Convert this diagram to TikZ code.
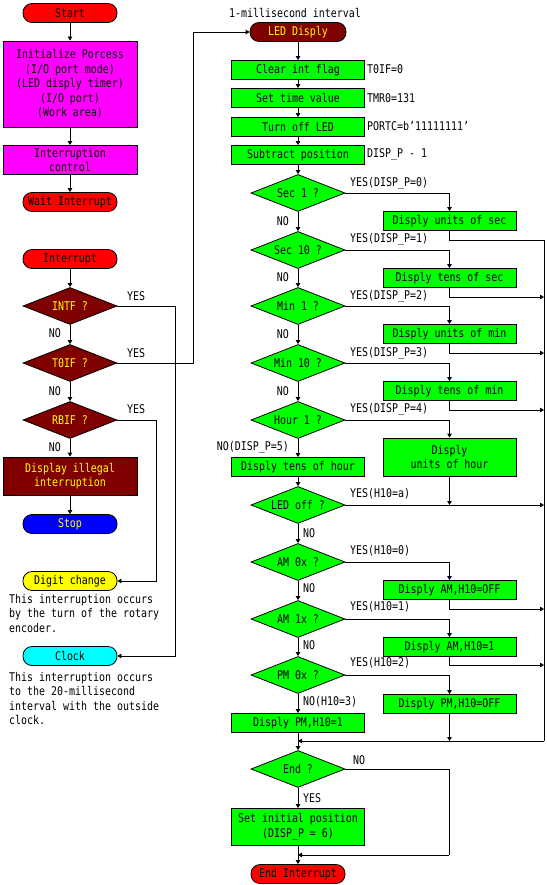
\documentclass[tikz,border=0pt]{standalone}
\usepackage{fontspec}
\setmainfont{DejaVu Sans Mono}[FakeStretch=0.83]
\usetikzlibrary{shapes.geometric,arrows.meta}
\definecolor{cred}{RGB}{255,0,0}
\definecolor{cmag}{RGB}{255,0,255}
\definecolor{cmar}{RGB}{128,0,0}
\definecolor{cblu}{RGB}{0,0,255}
\definecolor{cyel}{RGB}{255,255,0}
\definecolor{ccya}{RGB}{0,255,255}
\definecolor{cgrn}{RGB}{0,255,0}
\newcommand\dgfont{\fontsize{12}{14.5}\selectfont}
\tikzset{
  base/.style={draw, line width=0.8pt, inner sep=0pt, font=\dgfont, align=center},
  term/.style={base, rounded corners=9pt, minimum width=94pt, minimum height=19pt},
  pbox/.style={base, rectangle, minimum width=133pt, minimum height=19pt},
  dec/.style={base, diamond, aspect=2.5, minimum width=94pt, minimum height=37pt},
  lbl/.style={inner sep=0pt, font=\dgfont, align=left},
  ln/.style={line width=0.8pt},
  arr/.style={line width=0.8pt, -{Triangle[length=4pt,width=4.5pt]}},
  dark/.style={fill=cmar, text=cyel},
}
\begin{document}
\begin{tikzpicture}[x=1pt,y=-1pt]
\useasboundingbox (0,0) rectangle (546,885);
% ---------- left column ----------
\node[term, fill=cred] (start) at (70,13) {Start};
\node[pbox, fill=cmag, minimum width=134pt, minimum height=86pt] (init) at (70,84)
  {Initialize Porcess\\(I/O port mode)\\(LED disply timer)\\(I/O port)\\(Work area)};
\node[pbox, fill=cmag, minimum width=134pt, minimum height=29pt] (intc) at (70,160) {Interruption\\control};
\node[term, fill=cred] (wait) at (70,202) {Wait Interrupt};
\node[term, fill=cred] (intr) at (70,259) {Interrupt};
\node[dec, dark] (intf) at (70,306) {INTF ?};
\node[dec, dark] (toif) at (70,363) {T0IF ?};
\node[dec, dark] (rbif) at (70,420) {RBIF ?};
\node[pbox, dark, minimum width=134pt, minimum height=38pt] (illeg) at (70,476) {Display illegal\\interruption};
\node[term, fill=cblu, text=cyel] (stop) at (70,524) {Stop};
\node[term, fill=cyel] (digit) at (70,581) {Digit change};
\node[term, fill=ccya] (clock) at (70,656) {Clock};
\node[lbl, anchor=north west] (t1) at (9,594) {This interruption occurs\\by the turn of the rotary\\encoder.};
\node[lbl, anchor=north west] (t2) at (9,672) {This interruption occurs\\to the 20-millisecond\\interval with the outside\\clock.};

\draw[arr] (start) -- (init);
\draw[arr] (init) -- (intc);
\draw[arr] (intc) -- (wait);
\draw[arr] (intr) -- (intf);
\draw[arr] (intf) -- (toif);
\draw[arr] (toif) -- (rbif);
\draw[arr] (rbif) -- (illeg);
\draw[arr] (illeg) -- (stop);

\node[lbl, anchor=east] (n1) at (61,333) {NO};
\node[lbl, anchor=east] (n2) at (61,391) {NO};
\node[lbl, anchor=east] (n3) at (61,447) {NO};
\node[lbl, anchor=west] (y1) at (127,296) {YES};
\node[lbl, anchor=west] (y2) at (127,353) {YES};
\node[lbl, anchor=west] (y3) at (127,409) {YES};

\coordinate (xC) at (175,0);
\coordinate (xT) at (193,0);
\coordinate (xR) at (156,0);

% ---------- right column ----------
\node[lbl] (hdr) at (295,13) {1-millisecond interval};
\node[term, dark, minimum width=96pt] (led) at (298,32) {LED Disply};
\node[pbox, fill=cgrn] (clr) at (298,70) {Clear int flag};
\node[pbox, fill=cgrn] (stv) at (298,98) {Set time value};
\node[pbox, fill=cgrn] (tol) at (298,127) {Turn off LED};
\node[pbox, fill=cgrn] (sbp) at (298,155) {Subtract position};
\node[lbl, anchor=west] (c1) at (367,69) {T0IF=0};
\node[lbl, anchor=west] (c2) at (367,98) {TMR0=131};
\node[lbl, anchor=west] (c3) at (367,126) {PORTC=b'11111111'};
\node[lbl, anchor=west] (c4) at (367,154) {DISP\_P - 1};

\draw[arr] (intf.east) -- (intf.east -| xC) |- (clock.east);
\draw[arr] (toif.east) -- (toif.east -| xT) |- (led.west);
\draw[arr] (rbif.east) -- (rbif.east -| xR) |- (digit.east);

\node[dec, fill=cgrn] (sec1) at (298,193) {Sec 1 ?};
\node[dec, fill=cgrn] (sec10) at (298,250) {Sec 10 ?};
\node[dec, fill=cgrn] (min1) at (298,306) {Min 1 ?};
\node[dec, fill=cgrn] (min10) at (298,363) {Min 10 ?};
\node[dec, fill=cgrn] (hr1) at (298,420) {Hour 1 ?};
\node[pbox, fill=cgrn] (us) at (449.5,221) {Disply units of sec};
\node[pbox, fill=cgrn] (ts) at (449.5,278) {Disply tens of sec};
\node[pbox, fill=cgrn] (um) at (449.5,334) {Disply units of min};
\node[pbox, fill=cgrn] (tm) at (449.5,391) {Disply tens of min};
\node[pbox, fill=cgrn, minimum height=38pt] (uh) at (449.5,457) {Disply\\units of hour};
\node[pbox, fill=cgrn] (th) at (298,467) {Disply tens of hour};
\node[dec, fill=cgrn] (ledoff) at (298,505) {LED off ?};
\node[dec, fill=cgrn] (am0) at (298,562) {AM 0x ?};
\node[dec, fill=cgrn] (am1) at (298,619) {AM 1x ?};
\node[dec, fill=cgrn] (pm0) at (298,675) {PM 0x ?};
\node[pbox, fill=cgrn] (amoff) at (449.5,590) {Disply AM,H10=OFF};
\node[pbox, fill=cgrn] (amone) at (449.5,647) {Disply AM,H10=1};
\node[pbox, fill=cgrn] (pmoff) at (449.5,704) {Disply PM,H10=OFF};
\node[pbox, fill=cgrn] (pmone) at (298,723) {Disply PM,H10=1};
\node[dec, fill=cgrn] (endq) at (298,769) {End ?};
\node[pbox, fill=cgrn, minimum height=37pt] (setp) at (298,827) {Set initial position\\(DISP\_P = 6)};
\node[term, fill=cred] (endi) at (298,874) {End Interrupt};

% main chain
\draw[arr] (led) -- (clr);
\draw[arr] (clr) -- (stv);
\draw[arr] (stv) -- (tol);
\draw[arr] (tol) -- (sbp);
\draw[arr] (sbp) -- (sec1);
\draw[arr] (sec1) -- (sec10);
\draw[arr] (sec10) -- (min1);
\draw[arr] (min1) -- (min10);
\draw[arr] (min10) -- (hr1);
\draw[arr] (hr1) -- (th);
\draw[arr] (th) -- (ledoff);
\draw[arr] (ledoff) -- (am0);
\draw[arr] (am0) -- (am1);
\draw[arr] (am1) -- (pm0);
\draw[arr] (pm0) -- (pmone);
\draw[arr] (pmone) -- (endq);
\draw[arr] (endq) -- (setp);
\draw[arr] (setp) -- (endi);

% YES branches
\draw[arr] (sec1.east) -| (us.north);
\draw[arr] (sec10.east) -| (ts.north);
\draw[arr] (min1.east) -| (um.north);
\draw[arr] (min10.east) -| (tm.north);
\draw[arr] (hr1.east) -| (uh.north);
\draw[arr] (am0.east) -| (amoff.north);
\draw[arr] (am1.east) -| (amone.north);
\draw[arr] (pm0.east) -| (pmoff.north);

% return bus
\coordinate (busT) at (544,240);
\coordinate (busB) at (544,741);
\coordinate (mrg) at (298,741);
\coordinate (b1) at (544,297);
\coordinate (b2) at (544,353);
\coordinate (b3) at (544,410);
\coordinate (b4) at (544,505);
\coordinate (b5) at (544,609);
\coordinate (b6) at (544,665);
\draw[ln] (us.south) |- (busT) -- (busB);
\draw[arr] (busB) -- (mrg);
\draw[arr] (ts.south) |- (b1);
\draw[arr] (um.south) |- (b2);
\draw[arr] (tm.south) |- (b3);
\draw[arr] (uh.south) -- (uh.south |- ledoff.east);
\draw[arr] (ledoff.east) -- (b4);
\draw[arr] (amoff.south) |- (b5);
\draw[arr] (amone.south) |- (b6);
\draw[arr] (pmoff.south) -- (pmoff.south |- mrg);

% End loop
\coordinate (eR) at (449,855);
\coordinate (eL) at (298,855);
\draw[ln] (endq.east) -| (eR);
\draw[arr] (eR) -- (eL);

% labels
\node[lbl, anchor=west] (ya) at (350,183) {YES(DISP\_P=0)};
\node[lbl, anchor=west] (yb) at (350,239) {YES(DISP\_P=1)};
\node[lbl, anchor=west] (yc) at (350,296) {YES(DISP\_P=2)};
\node[lbl, anchor=west] (yd) at (350,353) {YES(DISP\_P=3)};
\node[lbl, anchor=west] (ye) at (350,409) {YES(DISP\_P=4)};
\node[lbl, anchor=west] (yf) at (350,494) {YES(H10=a)};
\node[lbl, anchor=west] (yg) at (350,551) {YES(H10=0)};
\node[lbl, anchor=west] (yh) at (350,607) {YES(H10=1)};
\node[lbl, anchor=west] (yi) at (350,663) {YES(H10=2)};
\node[lbl, anchor=east] (na) at (289,221) {NO};
\node[lbl, anchor=east] (nb) at (289,277) {NO};
\node[lbl, anchor=east] (nc) at (289,334) {NO};
\node[lbl, anchor=east] (nd) at (289,391) {NO};
\node[lbl, anchor=east] (ne) at (289,447) {NO(DISP\_P=5)};
\node[lbl, anchor=west] (nf) at (303,533) {NO};
\node[lbl, anchor=west] (ng) at (303,588) {NO};
\node[lbl, anchor=west] (nh) at (303,645) {NO};
\node[lbl, anchor=west] (ni) at (303,702) {NO(H10=3)};
\node[lbl, anchor=west] (nj) at (353,760) {NO};
\node[lbl, anchor=west] (yj) at (303,798) {YES};
\end{tikzpicture}
\end{document}
